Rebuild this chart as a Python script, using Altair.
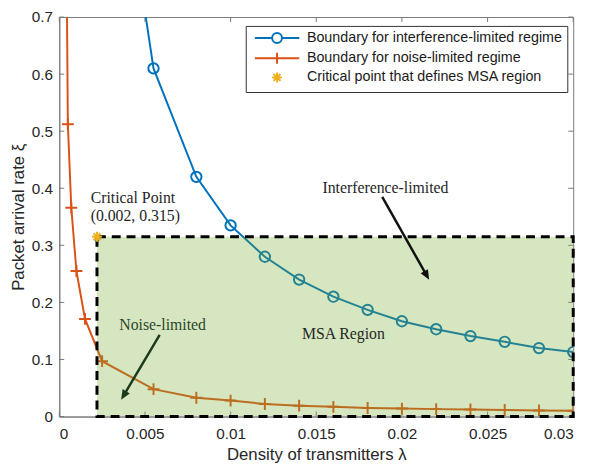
import math
import altair as alt
import pandas as pd

# ---------------- data ----------------
# Boundary for interference-limited regime (blue, circles)
blue_x = [0.004, 0.0055, 0.008, 0.010, 0.012, 0.014, 0.016, 0.018, 0.020, 0.022, 0.024, 0.026, 0.028, 0.030]
blue_y = [0.91, 0.61, 0.42, 0.335, 0.28, 0.24, 0.21, 0.187, 0.167, 0.153, 0.141, 0.131, 0.120, 0.113]

# Boundary for noise-limited regime (orange, plus)
orange_x = [0.0004, 0.0005, 0.0007, 0.0010, 0.0015, 0.0025, 0.0055, 0.008, 0.010, 0.012,
            0.014, 0.016, 0.018, 0.020, 0.022, 0.024, 0.026, 0.028, 0.030]
orange_y = [0.89, 0.512, 0.366, 0.255, 0.171, 0.097, 0.048, 0.033, 0.028, 0.022,
            0.019, 0.017, 0.015, 0.014, 0.013, 0.0125, 0.0115, 0.0107, 0.0102]

# Critical point / MSA region
crit_x = [0.0022]
crit_y = [0.315]
region_x = [0.0022]
region_x2 = [0.030]
region_y = [0.0]
region_y2 = [0.315]

series_names = ["Boundary for interference-limited regime",
                "Boundary for noise-limited regime",
                "Critical point that defines MSA region"]

x_ticks = [0, 0.005, 0.01, 0.015, 0.02, 0.025, 0.03]
y_ticks = [0, 0.1, 0.2, 0.3, 0.4, 0.5, 0.6, 0.7]

# annotations (data coordinates)
serif_labels = ["Critical Point", "(0.002, 0.315)", "Interference-limited", "MSA Region"]
serif_x = [0.00183, 0.00183, 0.01536, 0.01417]
serif_y = [0.383, 0.351, 0.400, 0.145]
green_labels = ["Noise-limited"]
green_x = [0.0035]
green_y = [0.160]

arrow_x = [0.01885, 0.00586]
arrow_y = [0.385, 0.143]
arrow_tip_x = [0.02159, 0.00361]
arrow_tip_y = [0.2396, 0.0295]
arrow_colors = ["#111111", "#1c3a1c"]

# ---------------- styling ----------------
W, H = 521, 405
BLUE, ORANGE, YELLOW, GREEN = "#0072BD", "#D95319", "#EDB120", "#77AC30"
AX = "#7a7a7a"
TXT = "#262626"

xs = alt.Scale(domain=[0, 0.03], nice=False, zero=False)
ys = alt.Scale(domain=[0, 0.7], nice=False, zero=False)
x_axis = alt.Axis(values=x_ticks, format="~g", title="Density of transmitters λ")
y_axis = alt.Axis(values=y_ticks, format="~g", title="Packet arrival rate ξ")


def X(f):
    return alt.X(f, type="quantitative", scale=xs, axis=x_axis)


def Y(f):
    return alt.Y(f, type="quantitative", scale=ys, axis=y_axis)


PLUS = "M-1,0L1,0M0,-1L0,1"
STAR = "M-1,0L1,0M0,-1L0,1M-0.7,-0.7L0.7,0.7M-0.7,0.7L0.7,-0.7"
HEAD = "M0,0L-1.7,4L1.7,4Z"

blue_df = pd.DataFrame({"x": blue_x, "y": blue_y})
orange_df = pd.DataFrame({"x": orange_x, "y": orange_y})

# inward ticks
xt = pd.DataFrame({"v": x_ticks})
yt = pd.DataFrame({"v": y_ticks})
tick_layers = [
    alt.Chart(xt).mark_rule(color=AX, strokeWidth=1).encode(x=X("v"), y=alt.value(H), y2=alt.value(H - 5)),
    alt.Chart(xt).mark_rule(color=AX, strokeWidth=1).encode(x=X("v"), y=alt.value(0), y2=alt.value(5)),
    alt.Chart(yt).mark_rule(color=AX, strokeWidth=1).encode(y=Y("v"), x=alt.value(0), x2=alt.value(5)),
    alt.Chart(yt).mark_rule(color=AX, strokeWidth=1).encode(y=Y("v"), x=alt.value(W), x2=alt.value(W - 5)),
]

blue_line = alt.Chart(blue_df).mark_line(color=BLUE, strokeWidth=2, clip=True).encode(x=X("x"), y=Y("y"))
blue_pts = alt.Chart(blue_df).mark_point(color=BLUE, size=110, strokeWidth=2, filled=False,
                                         shape="circle", opacity=1, clip=True).encode(x=X("x"), y=Y("y"))
orange_line = alt.Chart(orange_df).mark_line(color=ORANGE, strokeWidth=2, clip=True).encode(x=X("x"), y=Y("y"))
orange_pts = alt.Chart(orange_df).mark_point(color=ORANGE, size=144, strokeWidth=2, filled=False,
                                             shape=PLUS, opacity=1, clip=True).encode(x=X("x"), y=Y("y"))

region_df = pd.DataFrame({"x": region_x, "x2": region_x2, "y": region_y, "y2": region_y2})
region_fill = alt.Chart(region_df).mark_rect(color=GREEN, opacity=0.3).encode(
    x=X("x"), x2="x2", y=Y("y"), y2="y2")
region_border = alt.Chart(region_df).mark_rect(fill=None, fillOpacity=0, stroke="black", strokeWidth=3,
                                               strokeDash=[9, 6]).encode(
    x=X("x"), x2="x2", y=Y("y"), y2="y2")

crit_df = pd.DataFrame({"x": crit_x, "y": crit_y})
crit_pt = alt.Chart(crit_df).mark_point(color=YELLOW, shape=STAR, size=100, strokeWidth=2,
                                        filled=False, opacity=1).encode(x=X("x"), y=Y("y"))

serif_df = pd.DataFrame({"x": serif_x, "y": serif_y, "t": serif_labels})
serif_text = alt.Chart(serif_df).mark_text(align="left", baseline="middle", font="Liberation Serif",
                                           fontSize=16, color=TXT).encode(x=X("x"), y=Y("y"), text="t:N")
green_df = pd.DataFrame({"x": green_x, "y": green_y, "t": green_labels})
green_text = alt.Chart(green_df).mark_text(align="left", baseline="middle", font="Liberation Serif",
                                           fontSize=16, color="#2c472c").encode(x=X("x"), y=Y("y"), text="t:N")

# arrows: shaft + rotated head whose tip sits on the arrow's end
arrow_layers = []
HEAD_SIZE = 25  # path scale = sqrt(size)/2 = 2.5 px -> head length 10 px
for sx0, sy0, tx, ty, col in zip(arrow_x, arrow_y, arrow_tip_x, arrow_tip_y, arrow_colors):
    px = (tx - sx0) * W / 0.03
    py = -(ty - sy0) * H / 0.7
    ang = math.degrees(math.atan2(px, -py)) % 360
    L = math.hypot(px, py)
    back = 6.0 / L  # end shaft a little before the tip
    ex = tx - (tx - sx0) * back
    ey = ty - (ty - sy0) * back
    shaft = pd.DataFrame({"x": [sx0], "y": [sy0], "x2": [ex], "y2": [ey]})
    tip = pd.DataFrame({"x": [tx], "y": [ty]})
    arrow_layers.append(alt.Chart(shaft).mark_rule(color=col, strokeWidth=2.5).encode(
        x=X("x"), y=Y("y"), x2="x2", y2="y2"))
    arrow_layers.append(alt.Chart(tip).mark_point(shape=HEAD, size=HEAD_SIZE, angle=ang, filled=True,
                                                  color=col, opacity=1, strokeWidth=0.5).encode(
        x=X("x"), y=Y("y")))

# legend carrier (no visible marks: x is null so the rows are filtered out)
LEG_BLUE = "M-4.5,0L-1,0M1,0L4.5,0M-1,0A1,1,0,1,1,1,0A1,1,0,1,1,-1,0"
LEG_ORANGE = "M-4.5,0L4.5,0M0,-1.1L0,1.1"
LEG_STAR = STAR
leg_df = pd.DataFrame({"series": series_names, "x": [None, None, None]})
legend_def = alt.Legend(title=None, orient="none", legendX=189, legendY=9)
legend_layer = alt.Chart(leg_df).mark_point(filled=False, opacity=1, strokeWidth=2).encode(
    x=X("x"),
    color=alt.Color("series:N", scale=alt.Scale(domain=series_names, range=[BLUE, ORANGE, YELLOW]),
                    legend=legend_def),
    shape=alt.Shape("series:N", scale=alt.Scale(domain=series_names, range=[LEG_BLUE, LEG_ORANGE, LEG_STAR]),
                    legend=legend_def),
)

chart = alt.layer(
    *tick_layers,
    blue_line, blue_pts, orange_line, orange_pts,
    region_fill, region_border, crit_pt,
    serif_text, green_text, *arrow_layers,
    legend_layer,
).properties(
    width=W, height=H,
    autosize=alt.AutoSizeParams(type="none"),
    padding={"left": 52, "top": 6, "right": 16, "bottom": 50},
).configure_view(
    stroke=AX, strokeWidth=1,
).configure_axis(
    grid=False, ticks=False, tickSize=0, domainColor=AX, domainWidth=1,
    labelFont="Liberation Sans", labelFontSize=15.5, labelColor=TXT,
    titleFont="Liberation Sans", titleFontSize=17, titleFontWeight="normal", titleColor=TXT,
).configure_axisX(
    labelPadding=10, titlePadding=5,
).configure_axisY(
    labelPadding=7, titlePadding=4,
).configure_legend(
    labelFont="Liberation Sans", labelFontSize=14.5, labelColor="#1a1a1a", labelLimit=500,
    symbolSize=100, symbolStrokeWidth=2, symbolFillColor="transparent",
    symbolOffset=19.5, labelOffset=23, padding=5, rowPadding=0.5,
    strokeColor="#333333", fillColor="white", cornerRadius=0,
)

chart.save("out.html", embed_options={"renderer": "svg", "actions": False})
